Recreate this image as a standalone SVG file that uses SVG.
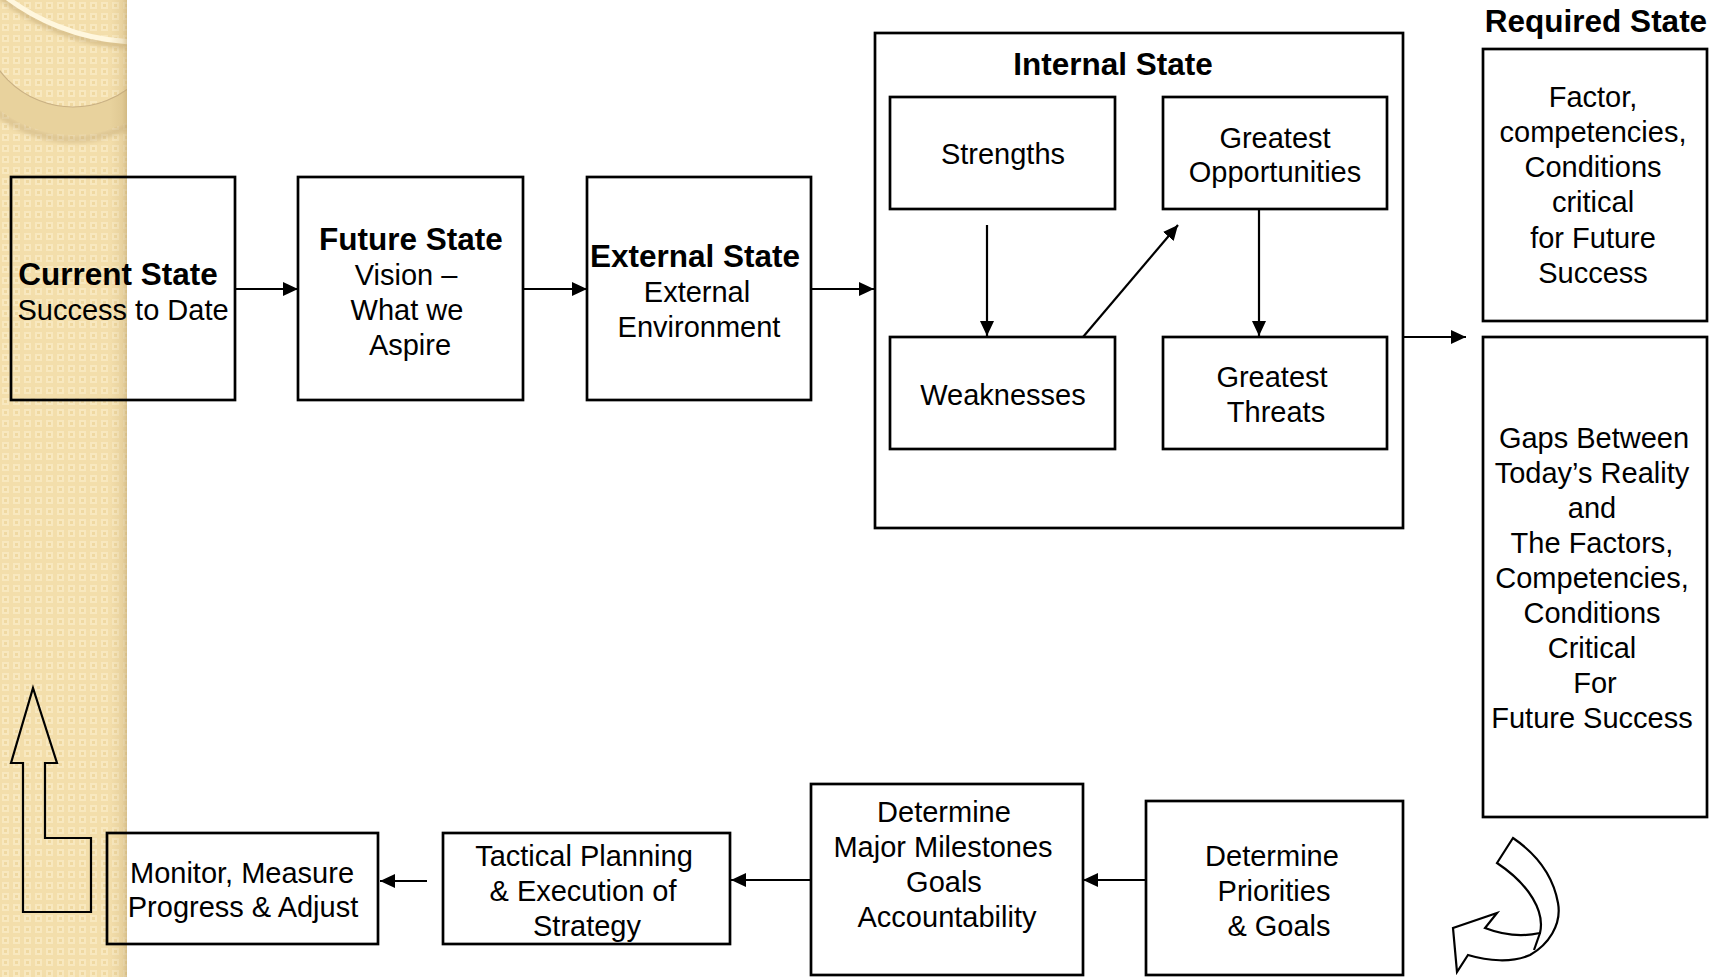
<svg xmlns="http://www.w3.org/2000/svg" width="1725" height="977" viewBox="0 0 1725 977">
<style>
.box{fill:none;stroke:#000;stroke-width:2.7}
.cn{fill:none;stroke:#000;stroke-width:2.2}
.t{font-family:"Liberation Sans",Arial,sans-serif;font-size:29px;fill:#000;text-anchor:middle}
.b{font-family:"Liberation Sans",Arial,sans-serif;font-size:31.5px;font-weight:bold;fill:#000;text-anchor:middle}
.outline{fill:none;stroke:#000;stroke-width:2.2;stroke-linejoin:miter}
</style>
<defs>
<pattern id="chk" x="0" y="0" width="11" height="11" patternUnits="userSpaceOnUse">
<rect width="11" height="11" fill="#F3DEAB"/>
<rect x="2" y="2" width="7" height="7" fill="#F8E8BF"/>
<rect x="4" y="4" width="3" height="3" fill="#EFD8A1"/>
</pattern>
<linearGradient id="edge" x1="0" y1="0" x2="1" y2="0">
<stop offset="0" stop-color="#C8AE78" stop-opacity="0"/>
<stop offset="0.7" stop-color="#C8AE78" stop-opacity="0.25"/>
<stop offset="1" stop-color="#BFA46C" stop-opacity="0.55"/>
</linearGradient>
<clipPath id="bandclip"><rect x="0" y="0" width="127" height="977"/></clipPath>
<filter id="blur" x="-20%" y="-20%" width="140%" height="140%"><feGaussianBlur stdDeviation="2"/></filter>
<marker id="ah" markerWidth="15" markerHeight="14" refX="15" refY="7" orient="auto" markerUnits="userSpaceOnUse">
<path d="M0,0 L15,7 L0,14 z" fill="#000"/>
</marker>
</defs>

<rect width="1725" height="977" fill="#fff"/>

<g id="background-band" clip-path="url(#bandclip)">
<rect x="0" y="0" width="127" height="977" fill="url(#chk)"/>
<path d="M73,15 m-120,0 a120,120 0 1,0 240,0 a120,120 0 1,0 -240,0 z" fill="none" stroke="#B89C66" stroke-opacity="0.35" stroke-width="8" transform="translate(0,4)" filter="url(#blur)"/>
<path d="M-47,15 A120,120 0 0,0 193,15 L165,15 A92,92 0 0,1 -19,15 z" fill="#E8D29D"/>
<path d="M-19,15 A92,92 0 0,0 165,15" fill="none" stroke="#C9B083" stroke-width="1.2"/>
<path d="M-82,-180 A222,222 0 0,0 362,-180" fill="none" stroke="#B89C66" stroke-opacity="0.45" stroke-width="6" transform="translate(0,4)" filter="url(#blur)"/>
<path d="M-82,-180 A222,222 0 0,0 362,-180" fill="none" stroke="#FFF7DE" stroke-width="5"/>
<rect x="110" y="0" width="17" height="977" fill="url(#edge)"/>
</g>

<g id="current-state">
<rect class="box" x="11" y="177" width="224" height="223"/>
<text class="b" x="118" y="285">Current State</text>
<text class="t" x="123" y="320">Success to Date</text>
</g>

<g id="future-state">
<rect class="box" x="298" y="177" width="225" height="223"/>
<text class="b" x="411" y="250">Future State</text>
<text class="t" x="406" y="285">Vision –</text>
<text class="t" x="407" y="320">What we</text>
<text class="t" x="410" y="355">Aspire</text>
</g>

<g id="external-state">
<rect class="box" x="587" y="177" width="224" height="223"/>
<text class="b" x="695" y="267">External State</text>
<text class="t" x="697" y="302">External</text>
<text class="t" x="699" y="337">Environment</text>
</g>

<g id="internal-state">
<rect class="box" x="875" y="33" width="528" height="495"/>
<text class="b" x="1113" y="75">Internal State</text>
</g>

<g id="strengths">
<rect class="box" x="890" y="97" width="225" height="112"/>
<text class="t" x="1003" y="164">Strengths</text>
</g>

<g id="opportunities">
<rect class="box" x="1163" y="97" width="224" height="112"/>
<text class="t" x="1275" y="148">Greatest</text>
<text class="t" x="1275" y="182">Opportunities</text>
</g>

<g id="weaknesses">
<rect class="box" x="890" y="337" width="225" height="112"/>
<text class="t" x="1003" y="405">Weaknesses</text>
</g>

<g id="threats">
<rect class="box" x="1163" y="337" width="224" height="112"/>
<text class="t" x="1272" y="387">Greatest</text>
<text class="t" x="1276" y="422">Threats</text>
</g>

<g id="required-state">
<text class="b" x="1596" y="32">Required State</text>
<rect class="box" x="1483" y="49" width="224" height="272"/>
<text class="t" x="1593" y="107">Factor,</text>
<text class="t" x="1593" y="142">competencies,</text>
<text class="t" x="1593" y="177">Conditions</text>
<text class="t" x="1593" y="212">critical</text>
<text class="t" x="1593" y="248">for Future</text>
<text class="t" x="1593" y="283">Success</text>
</g>

<g id="gaps">
<rect class="box" x="1483" y="337" width="224" height="480"/>
<text class="t" x="1594" y="448">Gaps Between</text>
<text class="t" x="1592" y="483">Today’s Reality</text>
<text class="t" x="1592" y="518">and</text>
<text class="t" x="1592" y="553">The Factors,</text>
<text class="t" x="1592" y="588">Competencies,</text>
<text class="t" x="1592" y="623">Conditions</text>
<text class="t" x="1592" y="658">Critical</text>
<text class="t" x="1595" y="693">For</text>
<text class="t" x="1592" y="728">Future Success</text>
</g>

<g id="priorities">
<rect class="box" x="1146" y="801" width="257" height="174"/>
<text class="t" x="1272" y="866">Determine</text>
<text class="t" x="1274" y="901">Priorities</text>
<text class="t" x="1279" y="936">&amp; Goals</text>
</g>

<g id="milestones">
<rect class="box" x="811" y="784" width="272" height="191"/>
<text class="t" x="944" y="822">Determine</text>
<text class="t" x="943" y="857">Major Milestones</text>
<text class="t" x="944" y="892">Goals</text>
<text class="t" x="947" y="927">Accountability</text>
</g>

<g id="tactical">
<rect class="box" x="443" y="833" width="287" height="111"/>
<text class="t" x="584" y="866">Tactical Planning</text>
<text class="t" x="583" y="901">&amp; Execution of</text>
<text class="t" x="587" y="936">Strategy</text>
</g>

<g id="monitor">
<rect class="box" x="107" y="833" width="271" height="111"/>
<text class="t" x="242" y="883">Monitor, Measure</text>
<text class="t" x="243" y="917">Progress &amp; Adjust</text>
</g>

<g id="loop-arrow">
<path class="outline" d="M33,688 L57,763 L45,763 L45,838 L91,838 L91,912 L23,912 L23,763 L11,763 Z"/>
</g>

<g id="curved-arrow">
<path class="outline" fill="#fff" d="M1497,863 L1513,838 C1535,853 1553,875 1558,903 C1562,925 1548,945 1530,955 C1512,963 1488,961 1468,955 L1457,972 L1453,928 L1497,913 L1485,928 C1503,935 1522,937 1540,933 C1545,912 1530,885 1497,863 Z"/>
<path class="outline" d="M1540,933 L1534,950"/>
</g>

<g id="connectors">
<line class="cn" x1="235" y1="289" x2="298" y2="289" marker-end="url(#ah)"/>
<line class="cn" x1="523" y1="289" x2="587" y2="289" marker-end="url(#ah)"/>
<line class="cn" x1="811" y1="289" x2="874" y2="289" marker-end="url(#ah)"/>
<line class="cn" x1="987" y1="225" x2="987" y2="336" marker-end="url(#ah)"/>
<line class="cn" x1="1083" y1="337" x2="1178" y2="225" marker-end="url(#ah)"/>
<line class="cn" x1="1259" y1="209" x2="1259" y2="336" marker-end="url(#ah)"/>
<line class="cn" x1="1403" y1="337" x2="1466" y2="337" marker-end="url(#ah)"/>
<line class="cn" x1="1146" y1="880" x2="1083" y2="880" marker-end="url(#ah)"/>
<line class="cn" x1="811" y1="880" x2="731" y2="880" marker-end="url(#ah)"/>
<line class="cn" x1="427" y1="881" x2="380" y2="881" marker-end="url(#ah)"/>
</g>
</svg>
